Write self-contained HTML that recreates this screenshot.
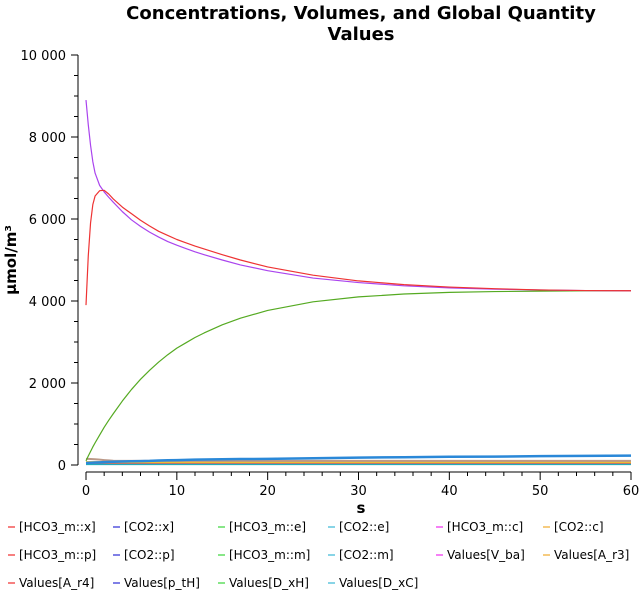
<!DOCTYPE html>
<html><head><meta charset="utf-8"><style>
body{margin:0;background:#fff;width:640px;height:597px;overflow:hidden;font-family:"DejaVu Sans","Liberation Sans",sans-serif}
svg text{font-family:"DejaVu Sans","Liberation Sans",sans-serif}
</style></head><body>
<svg id="c" width="640" height="597">
<text x="361" y="19" text-anchor="middle" font-size="18" font-weight="bold">Concentrations, Volumes, and Global Quantity</text>
<text x="361" y="40" text-anchor="middle" font-size="18" font-weight="bold">Values</text>
<text x="361" y="513" text-anchor="middle" font-size="15" font-weight="bold">s</text>
<text transform="translate(16,260) rotate(-90)" text-anchor="middle" font-size="15" font-weight="bold">µmol/m³</text>
<g id="axes"></g><g id="series"></g><g id="legend"></g>
</svg>
<script>
const times=[0,0.25,0.5,0.75,1,1.5,2,2.5,3,4,5,6,7,8,9,10,11,12,13,15,17,20,25,30,35,40,45,50,55,60];
const vba=[8900,8300,7800,7400,7120,6820,6660,6530,6410,6180,5980,5820,5680,5560,5450,5360,5280,5200,5130,5000,4880,4740,4560,4450,4370,4320,4290,4270,4255,4250];
const hco3p=[3900,5100,5900,6350,6560,6690,6700,6610,6490,6290,6130,5970,5830,5700,5600,5500,5420,5340,5270,5130,5000,4830,4630,4490,4400,4340,4300,4270,4255,4250];
const hco3m=[100,220,330,440,540,730,920,1090,1250,1560,1840,2090,2310,2510,2690,2850,2980,3110,3220,3420,3580,3770,3980,4100,4170,4210,4230,4240,4248,4250];
const co2e=[50,52,55,57,60,65,70,75,80,85,90,95,100,110,115,120,125,130,133,140,145,150,165,180,190,200,205,215,222,230];
const tan=[150,148,145,142,140,130,120,112,105,100,100,100,100,100,100,100,100,100,100,100,100,100,100,100,100,100,100,100,100,100];
const orange=times.map(()=>70);
const redlow=times.map(()=>55);
const teal=times.map(()=>20);
const yTicks=[0,2000,4000,6000,8000,10000];
const yTickLabels=["0","2 000","4 000","6 000","8 000","10 000"];
const xTicks=[0,10,20,30,40,50,60];
const legendNames=["[HCO3_m::x]","[CO2::x]","[HCO3_m::e]","[CO2::e]","[HCO3_m::c]","[CO2::c]","[HCO3_m::p]","[CO2::p]","[HCO3_m::m]","[CO2::m]","Values[V_ba]","Values[A_r3]","Values[A_r4]","Values[p_tH]","Values[D_xH]","Values[D_xC]"];
const legendColors=["#e00","#00c","#1c1","#1ac","#e0e","#e90"];
const NS="http://www.w3.org/2000/svg";
const X=t=>86+t*(631-86)/60, Y=v=>465-v*(410/10000);
function mk(tag,at,parent){const e=document.createElementNS(NS,tag);for(const k in at)e.setAttribute(k,at[k]);parent.appendChild(e);return e;}
const ax=document.getElementById('axes');
let l=mk('line',{x1:78,y1:55,x2:78,y2:465,stroke:'#000'},ax);


l=mk('line',{x1:86,y1:472,x2:631,y2:472,stroke:'#000'},ax);


for(let v=0;v<=10000;v+=500){mk('line',{x1:v%2000?74:71,y1:Y(v),x2:78,y2:Y(v),stroke:'#000'},ax);}
yTicks.forEach((v,i)=>{const t=mk('text',{x:66,y:Y(v)+5,'text-anchor':'end','font-size':13},ax);t.textContent=yTickLabels[i];

});
for(let v=0;v<=60;v+=2){mk('line',{x1:X(v),y1:472,x2:X(v),y2:v%10?476:480,stroke:'#000'},ax);}
xTicks.forEach(v=>{const t=mk('text',{x:X(v),y:495,'text-anchor':'middle','font-size':13},ax);t.textContent=v;

});
const sg=document.getElementById('series');
function line(vals,color,name,w){const p=mk('polyline',{points:times.map((t,i)=>X(t)+','+Y(vals[i])).join(' '),fill:'none',stroke:color,'stroke-width':w||1.2,'stroke-linejoin':'round'},sg);

}
line(teal,'#2ab','series-co2-m',2);
line(redlow,'#e55','series-a-r4',2);
line(orange,'#eb3','series-a-r3',2);
line(tan,'#b98','series-d-xc',2);
line(co2e,'#2a88d8','series-co2-e',2.5);
line(hco3m,'#5a2','series-hco3-m-m');
line(vba,'#a4e','series-v-ba');
line(hco3p,'#e33','series-hco3-m-p');
const lg=document.getElementById('legend');
const colX=[8,113,218,328,436,543],rowY=[527,555,583];
legendNames.forEach((n,i)=>{const c=i%6,r=Math.floor(i/6);const g=mk('g',{},lg);


mk('line',{x1:colX[c],y1:rowY[r],x2:colX[c]+7,y2:rowY[r],stroke:legendColors[c]},g);
const t=mk('text',{x:colX[c]+11,y:rowY[r]+4,'font-size':12},g);t.textContent=n;});
</script>
</body></html>
